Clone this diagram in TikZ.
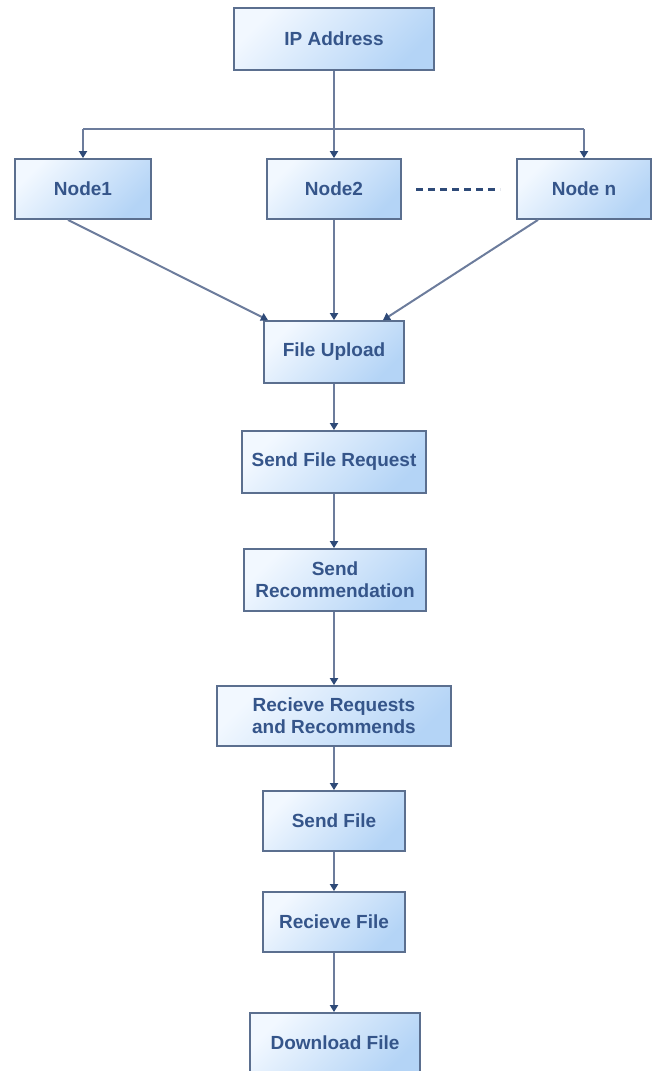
\documentclass[tikz,border=0pt]{standalone}
\usepackage{fontspec}
\setmainfont{Liberation Sans}
\usetikzlibrary{arrows.meta}
\definecolor{boxborder}{HTML}{5B6F8F}
\definecolor{boxlight}{HTML}{F2F8FF}
\definecolor{boxdark}{HTML}{B4D4F6}
\definecolor{txt}{HTML}{35558A}
\definecolor{wire}{HTML}{6C7C9C}
\definecolor{tipc}{HTML}{2E4A78}
\tikzset{
  flowbox/.style={draw=boxborder, line width=1.8pt, top color=boxlight, bottom color=boxdark, shading angle=45,
    font=\fontsize{19}{22}\selectfont\bfseries, text=txt, align=center, inner sep=0pt},
  conn/.style={draw=wire, line width=2pt, -{Triangle[length=7pt,width=8pt,color=tipc]}},
  plain/.style={draw=wire, line width=2pt}
}
\begin{document}
\begin{tikzpicture}[x=1pt,y=-1pt]
\useasboundingbox (0,0) rectangle (653,1071);
\node[flowbox, minimum width=200pt, minimum height=62pt] (ip) at (334,39) {IP Address};
\node[flowbox, minimum width=136pt, minimum height=60pt] (n1) at (83,189) {Node1};
\node[flowbox, minimum width=134pt, minimum height=60pt] (n2) at (334,189) {Node2};
\node[flowbox, minimum width=134pt, minimum height=60pt] (nn) at (584,189) {Node n};
\coordinate (d1) at (416,189);
\coordinate (d2) at (500,189);
\draw[color=tipc, line width=3pt, dash pattern=on 7pt off 5pt] (d1) -- (d2);
\node[flowbox, minimum width=140pt, minimum height=62pt] (fu) at (334,352) {File Upload};
\node[flowbox, minimum width=184pt, minimum height=62pt] (sfr) at (334,462) {Send File Request};
\node[flowbox, minimum width=182pt, minimum height=62pt] (sr) at (335,580) {Send\\Recommendation};
\node[flowbox, minimum width=234pt, minimum height=60pt] (rrr) at (334,716) {Recieve Requests\\and Recommends};
\node[flowbox, minimum width=142pt, minimum height=60pt] (sf) at (334,821) {Send File};
\node[flowbox, minimum width=142pt, minimum height=60pt] (rf) at (334,922) {Recieve File};
\node[flowbox, minimum width=170pt, minimum height=60pt] (df) at (335,1043) {Download File};
% bus
\coordinate (bus) at (334,129);
\coordinate (busl) at (83,129);
\coordinate (busr) at (584,129);
\draw[plain] (ip.south) -- (bus);
\draw[plain] (busl) -- (busr);
\draw[conn] (busl) -- (n1.north);
\draw[conn] (bus) -- (n2.north);
\draw[conn] (busr) -- (nn.north);
% into file upload
\draw[conn] ([xshift=-15pt]n1.south) -- ([xshift=-66pt]fu.north);
\draw[conn] (n2.south) -- (fu.north);
\draw[conn] ([xshift=-46pt]nn.south) -- ([xshift=49pt]fu.north);
% chain
\draw[conn] (fu.south) -- (sfr.north);
\draw[conn] (sfr.south) -- (sr.north -| sfr.south);
\draw[conn] (sr.south -| sfr.south) -- (rrr.north);
\draw[conn] (rrr.south) -- (sf.north);
\draw[conn] (sf.south) -- (rf.north);
\draw[conn] (rf.south) -- (df.north -| rf.south);
\end{tikzpicture}
\end{document}
